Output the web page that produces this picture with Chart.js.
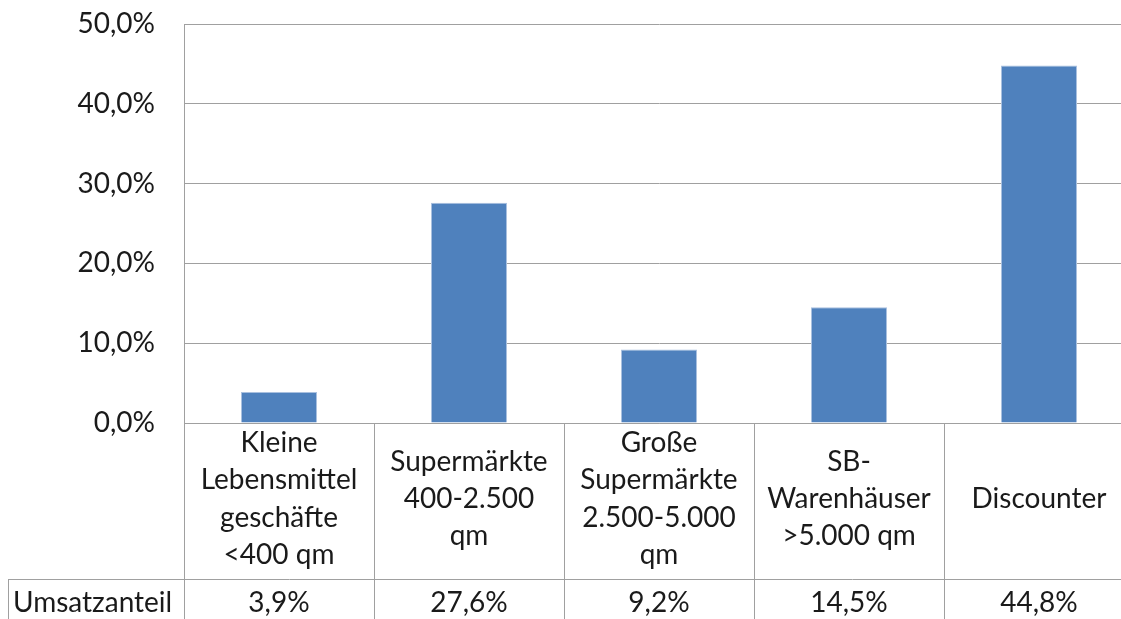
<!DOCTYPE html>
<html>
<head>
<meta charset="utf-8">
<script src="https://cdn.jsdelivr.net/npm/chart.js@4"></script>
<style>
  html, body { margin: 0; padding: 0; overflow: hidden; background: #fff; }
</style>
</head>
<body>
<canvas id="myChart" width="1134" height="619"></canvas>
<script>
var categories = [
  ['Kleine', 'Lebensmittel', 'geschäfte', '<400 qm'],
  ['Supermärkte', '400-2.500', 'qm'],
  ['Große', 'Supermärkte', '2.500-5.000', 'qm'],
  ['SB-', 'Warenhäuser', '>5.000 qm'],
  ['Discounter']
];
var seriesName = 'Umsatzanteil';
var values = [3.9, 27.6, 9.2, 14.5, 44.8];
var yTicks = [0, 10, 20, 30, 40, 50];

var fontFamily = 'Lato, Carlito, sans-serif';
var gridColor = '#a0a0a0';

function pct(v, digits) {
  return v.toFixed(digits).replace('.', ',') + '%';
}

var tablePlugin = {
  id: 'dataTable',
  afterDraw: function(chart) {
    var ctx = chart.ctx;
    var x = chart.scales.x;
    var rowTop = 579;
    ctx.save();
    ctx.strokeStyle = gridColor;
    ctx.lineWidth = 1;
    ctx.beginPath();
    ctx.moveTo(8, rowTop + 0.5);
    ctx.lineTo(chart.width, rowTop + 0.5);
    ctx.moveTo(8.5, rowTop);
    ctx.lineTo(8.5, chart.height);
    ctx.stroke();

    ctx.fillStyle = '#1a1a1a';
    ctx.font = '28px ' + fontFamily;
    ctx.textBaseline = 'middle';
    ctx.textAlign = 'left';
    ctx.fillText(seriesName, 13, 603);
    ctx.textAlign = 'center';
    values.forEach(function(v, i) {
      ctx.fillText(pct(v, 1), x.getPixelForValue(i), 603);
    });
    ctx.restore();
  }
};

function renderChart() {
  var ctx = document.getElementById('myChart').getContext('2d');
  var myChart = new Chart(ctx, {
    type: 'bar',
    data: {
      labels: categories,
      datasets: [{
        label: seriesName,
        data: values,
        backgroundColor: '#4f81bd',
        borderColor: '#a9c0df',
        borderWidth: 1,
        barPercentage: 1,
        categoryPercentage: 0.4
      }]
    },
    options: {
      responsive: false,
      animation: false,
      devicePixelRatio: 1,
      layout: { padding: { top: 24, left: 0, right: 0, bottom: 0 } },
      plugins: {
        legend: { display: false },
        tooltip: { enabled: false }
      },
      scales: {
        x: {
          offset: true,
          grid: {
            offset: true,
            drawOnChartArea: false,
            drawTicks: true,
            tickLength: 196,
            color: gridColor
          },
          border: { display: true, color: gridColor },
          ticks: {
            color: '#1a1a1a',
            font: { family: fontFamily, size: 28, lineHeight: 1.33 },
            padding: -196 + 20,
            crossAlign: 'center',
            maxRotation: 0,
            autoSkip: false
          },
          afterFit: function(scale) {
            scale.height = 196;
            scale.paddingLeft = 0;
            scale.paddingRight = 0;
          }
        },
        y: {
          min: 0,
          max: 50,
          afterBuildTicks: function(scale) {
            scale.ticks = yTicks.map(function(v) { return { value: v }; });
          },
          grid: { color: gridColor, drawTicks: false },
          border: { display: true, color: gridColor },
          ticks: {
            color: '#1a1a1a',
            font: { family: fontFamily, size: 28 },
            padding: 29,
            callback: function(v) { return pct(v, 1); }
          },
          afterFit: function(scale) {
            scale.width = 184;
            scale.paddingTop = 0;
            scale.paddingBottom = 0;
          }
        }
      }
    },
    plugins: [tablePlugin]
  });
}

renderChart();
</script>
</body>
</html>
